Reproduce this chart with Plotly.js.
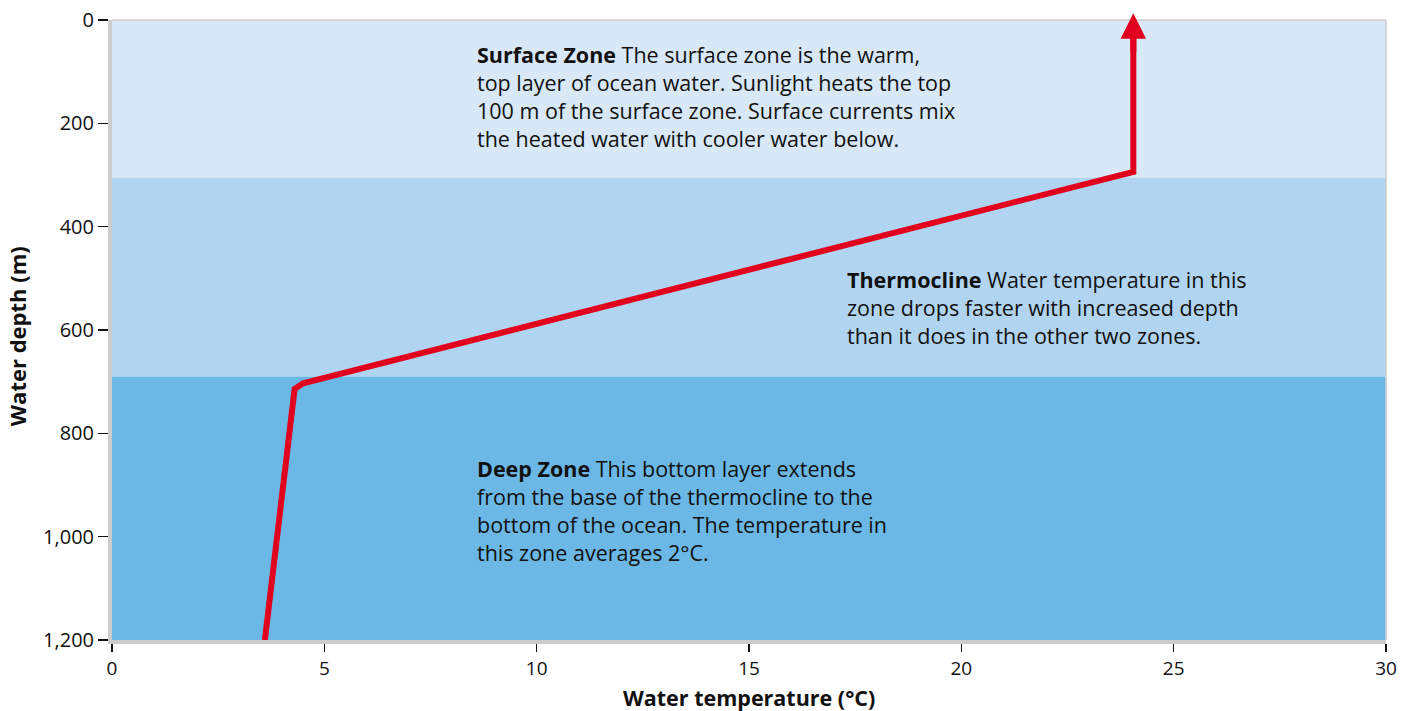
<!DOCTYPE html>
<html>
<head>
<meta charset="utf-8">
<script src="https://cdn.plot.ly/plotly-3.0.1.min.js"></script>
<style>html,body{margin:0;padding:0;background:#fff;}#chart{width:1413px;height:711px;}</style>
</head>
<body>
<div id="chart"></div>
<script>
// Temperature profile (°C vs depth m)
const tempC  = [3.6, 4.3, 4.5, 24.05, 24.05];
const depthM = [1200, 714, 703, 294, 0];

// Zones: name, top depth, bottom depth
const zoneNames   = ["Surface Zone", "Thermocline", "Deep Zone"];
const zoneTop     = [0, 305, 690];
const zoneBottom  = [305, 690, 1200];
const zoneColors  = ["#d8e8f6", "#b1d5f0", "#6bb8e6"];

const zoneTexts = [
  "<b>Surface Zone</b> The surface zone is the warm,<br>top layer of ocean water. Sunlight heats the top<br>100 m of the surface zone. Surface currents mix<br>the heated water with cooler water below.",
  "<b>Thermocline</b> Water temperature in this<br>zone drops faster with increased depth<br>than it does in the other two zones.",
  "<b>Deep Zone</b> This bottom layer extends<br>from the base of the thermocline to the<br>bottom of the ocean. The temperature in<br>this zone averages 2°C."
];
const textX = [8.55, 17.25, 8.55];
const textDepth = [35, 470, 836];

const xTitle = "Water temperature (°C)";
const yTitle = "Water depth (m)";

const xTicks = [0, 5, 10, 15, 20, 25, 30];
const yTicks = [0, 200, 400, 600, 800, 1000, 1200];

const FONT = "'Open Sans', 'Noto Sans', sans-serif";
const red = "#e2001f";

const shapes = zoneNames.map((n, i) => ({
  type: "rect", xref: "x", yref: "y", layer: "below",
  x0: 0, x1: 30, y0: zoneTop[i], y1: zoneBottom[i],
  fillcolor: zoneColors[i], line: {width: 0}
}));
// thin top & right border
shapes.push({type: "line", xref: "paper", yref: "paper", x0: 0, x1: 1, y0: 1, y1: 1, line: {color: "#cccccc", width: 1.5}});
shapes.push({type: "line", xref: "paper", yref: "paper", x0: 1, x1: 1, y0: 0, y1: 1, line: {color: "#cccccc", width: 1.5}});

const annotations = zoneTexts.map((t, i) => ({
  text: t, xref: "x", yref: "y", x: textX[i], y: textDepth[i],
  xanchor: "left", yanchor: "top", align: "left", showarrow: false,
  font: {family: FONT, size: 21.5, color: "#111"}
}));
// arrowhead at top of the profile
annotations.push({
  text: "", xref: "x", yref: "paper", x: tempC[tempC.length - 1], y: 1.011,
  axref: "pixel", ayref: "pixel", ax: 0, ay: 40,
  showarrow: true, arrowhead: 2, arrowsize: 0.85, arrowwidth: 6, arrowcolor: red, standoff: 0
});
// axis titles
annotations.push({
  text: "<b>" + xTitle + "</b>", xref: "paper", yref: "paper", x: 0.5, y: -0.092,
  xanchor: "center", yanchor: "middle", showarrow: false, borderpad: 0,
  font: {family: FONT, size: 21.5, color: "#111"}
});
annotations.push({
  text: "<b>" + yTitle + "</b>", xref: "paper", yref: "paper", x: -0.0746, y: 0.49,
  xanchor: "center", yanchor: "middle", textangle: -90, showarrow: false, borderpad: 0,
  font: {family: FONT, size: 22, color: "#111"}
});

const trace = {
  x: tempC, y: depthM, type: "scatter", mode: "lines",
  line: {color: red, width: 6}, hoverinfo: "skip", showlegend: false
};

const layout = {
  width: 1413, height: 711,
  margin: {l: 112, r: 27, t: 20, b: 71},
  paper_bgcolor: "#ffffff", plot_bgcolor: "#ffffff",
  font: {family: FONT, size: 20, color: "#111"},
  xaxis: {
    range: [0, 30], tickvals: xTicks, ticks: "outside", ticklen: 8, tickcolor: "#111", tickwidth: 1.5,
    showgrid: false, zeroline: false, showline: true, linecolor: "#cccccc", linewidth: 4,
    tickfont: {family: FONT, size: 19, color: "#111"}
  },
  yaxis: {
    range: [1200, 0], tickvals: yTicks, tickformat: ",", ticks: "outside", ticklen: 10, tickcolor: "#111", tickwidth: 1.5,
    showgrid: false, zeroline: false, showline: true, linecolor: "#cccccc", linewidth: 4,
    tickfont: {family: FONT, size: 20, color: "#111"}
  },
  shapes: shapes,
  annotations: annotations
};

Plotly.newPlot("chart", [trace], layout, {displayModeBar: false, staticPlot: true});
</script>
</body>
</html>
